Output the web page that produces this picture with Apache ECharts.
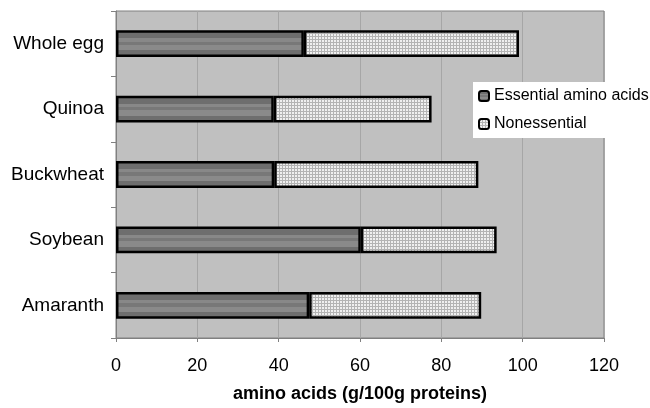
<!DOCTYPE html>
<html>
<head>
<meta charset="utf-8">
<script src="https://cdn.jsdelivr.net/npm/echarts@6/dist/echarts.min.js"></script>
<style>html,body{margin:0;padding:0;background:#fff}#c{width:650px;height:408px}</style>
</head>
<body>
<div id="c"></div>
<script>
var categories = ['Whole egg', 'Quinoa', 'Buckwheat', 'Soybean', 'Amaranth'];
var essential = [46.2, 38.8, 38.9, 60.2, 47.5];
var nonessential = [52.9, 38.8, 50.2, 33.4, 42.3];
var xTicks = [0, 20, 40, 60, 80, 100, 120];

function hatch() {
  var c = document.createElement('canvas');
  c.width = 3; c.height = 3;
  var g = c.getContext('2d');
  g.fillStyle = '#f0f0f0'; g.fillRect(0, 0, 3, 3);
  g.fillStyle = '#b4b4b4'; g.fillRect(0, 0, 3, 1); g.fillRect(0, 0, 1, 3);
  return c;
}
var essColor = {
  type: 'linear', x: 0, y: 0, x2: 0, y2: 1,
  colorStops: [
    {offset: 0, color: '#6e6e6e'}, {offset: 0.3, color: '#6e6e6e'},
    {offset: 0.3, color: '#888888'}, {offset: 0.42, color: '#888888'},
    {offset: 0.42, color: '#787878'}, {offset: 0.55, color: '#787878'},
    {offset: 0.55, color: '#8a8a8a'}, {offset: 0.75, color: '#8a8a8a'},
    {offset: 0.75, color: '#6e6e6e'}, {offset: 1, color: '#6e6e6e'}
  ]
};
var nonColor = {image: hatch(), repeat: 'repeat'};

var chart = echarts.init(document.getElementById('c'));
chart.setOption({
  animation: false,
  textStyle: {fontFamily: 'Liberation Sans, Arial, sans-serif'},
  grid: {left: 116, right: 46, top: 11, bottom: 68, show: true,
         backgroundColor: '#c0c0c0', borderColor: '#808080', borderWidth: 1},
  legend: {
    orient: 'vertical', left: 473, top: 82,
    backgroundColor: '#ffffff', padding: [6, 10, 6, 5],
    itemWidth: 10, itemHeight: 10, itemGap: 12,
    textStyle: {fontSize: 16, color: '#000', fontFamily: 'Liberation Sans, Arial, sans-serif'},
    data: ['Essential amino acids', 'Nonessential']
  },
  xAxis: {
    type: 'value', min: 0, max: 120, interval: 20,
    name: 'amino acids (g/100g proteins)', nameLocation: 'middle', nameGap: 47,
    nameTextStyle: {fontSize: 18, fontWeight: 'bold', color: '#000'},
    axisLine: {show: true, lineStyle: {color: '#808080'}},
    axisTick: {show: true, length: 4, lineStyle: {color: '#808080'}},
    axisLabel: {fontSize: 18, color: '#000', margin: 19,
      formatter: function (v) { return xTicks.indexOf(v) >= 0 ? String(v) : ''; }},
    splitLine: {show: true, lineStyle: {color: '#a6a6a6', width: 1}}
  },
  yAxis: {
    type: 'category', data: categories, inverse: true,
    axisLine: {show: true, lineStyle: {color: '#808080'}},
    axisTick: {show: true, length: 5, lineStyle: {color: '#808080'}},
    axisLabel: {fontSize: 19, color: '#000', margin: 12},
    splitLine: {show: false}
  },
  series: [
    {name: 'Essential amino acids', type: 'bar', stack: 't', data: essential,
     barWidth: '41%',
     itemStyle: {color: essColor, borderColor: '#000', borderWidth: 2.5}},
    {name: 'Nonessential', type: 'bar', stack: 't', data: nonessential,
     barWidth: '41%',
     itemStyle: {color: nonColor, borderColor: '#000', borderWidth: 2.5}}
  ]
});
</script>
</body>
</html>
